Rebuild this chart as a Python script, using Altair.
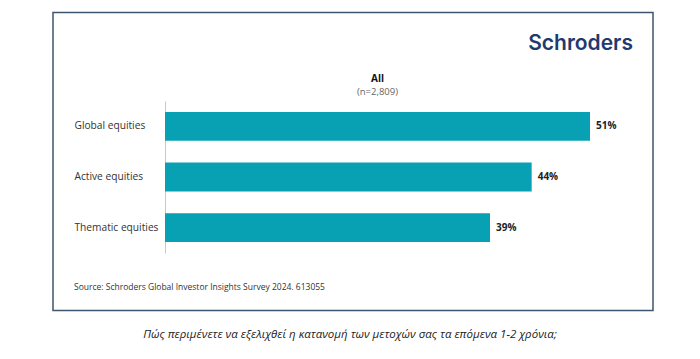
import altair as alt
import pandas as pd

categories = ["Global equities", "Active equities", "Thematic equities"]
values = [51, 44, 39]
labels = ["51%", "44%", "39%"]

title_main = "All"
title_sub = "(n=2,809)"
brand = "Schroders"
source = "Source: Schroders Global Investor Insights Survey 2024. 613055"
caption = "Πώς περιμένετε να εξελιχθεί η κατανομή των μετοχών σας τα επόμενα 1-2 χρόνια;"

df = pd.DataFrame({"cat": categories, "val": values, "lab": labels})

FONT = "Open Sans"

y_enc = alt.Y("cat:N", sort=categories, title=None,
              scale=alt.Scale(paddingInner=0.43, paddingOuter=0.215),
              axis=alt.Axis(labelAlign="left", labelPadding=91, ticks=False,
                            domainColor="#c8c8c8", domainWidth=1,
                            labelFont=FONT, labelFontSize=10.2, labelColor="#333333"))
x_enc = alt.X("val:Q", title=None, scale=alt.Scale(domain=[0, 51], nice=False),
              axis=None)

base = alt.Chart(df)

bars = base.mark_bar(color="#08a1b3").encode(x=x_enc, y=y_enc)
text = base.mark_text(align="left", dx=6, font=FONT, fontSize=10, fontWeight="bold",
                      color="#222222").encode(x=x_enc, y=alt.Y("cat:N", sort=categories), text="lab:N")

frame = alt.Chart(pd.DataFrame({"a": [0]})).mark_rect(
    fill=None, stroke="#3d566e", strokeWidth=1.5).encode(
    x=alt.value(-112), x2=alt.value(488), y=alt.value(-88.5), y2=alt.value(209.5))

def label(txt, x, y, **kw):
    return alt.Chart(pd.DataFrame({"t": [txt]})).mark_text(**kw).encode(
        x=alt.value(x), y=alt.value(y), text="t:N")

t_all = label(title_main, 212.5, -22, font=FONT, fontSize=10, fontWeight="bold",
              color="#111111", align="center")
t_sub = label(title_sub, 212.5, -9.5, font=FONT, fontSize=9.5, color="#666666", align="center")
t_brand = label(brand, 468, -57, font="Inter", fontSize=21, fontWeight=600,
                color="#1f3a6e", align="right")
t_src = label(source, -91, 186, font=FONT, fontSize=8.5, color="#333333", align="left")
t_cap = label(caption, 185, 234, font=FONT, fontSize=11.5, fontStyle="italic",
              color="#222222", align="center")

chart = alt.layer(frame, bars, text, t_all, t_sub, t_brand, t_src, t_cap).properties(
    width=425, height=152,
    autosize=alt.AutoSizeParams(type="none"),
    padding={"left": 157, "top": 93, "right": 90, "bottom": 95},
    background="white",
).configure_view(stroke=None)

chart.save("out.html", embed_options={"renderer": "svg", "actions": False})
